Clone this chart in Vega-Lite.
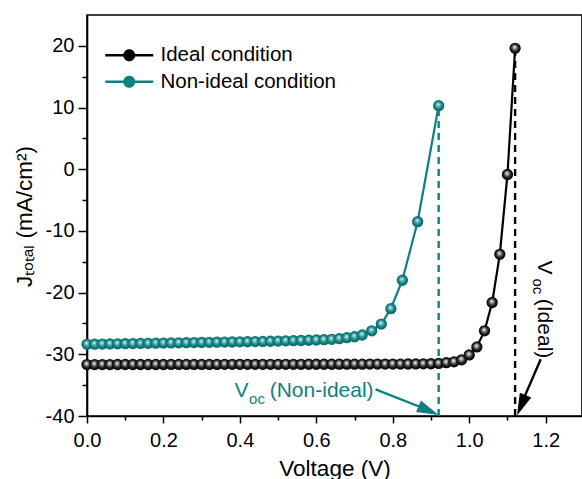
{
  "$schema": "https://vega.github.io/schema/vega-lite/v6.json",
  "width": 495,
  "height": 401,
  "autosize": {"type": "none"},
  "padding": {"left": 87, "top": 15, "right": 0, "bottom": 64},
  "background": "white",
  "config": {
    "view": {"stroke": "black", "strokeWidth": 1.6},
    "axis": {
      "labelFont": "Liberation Sans",
      "titleFont": "Liberation Sans",
      "labelFontSize": 20,
      "titleFontSize": 22.5,
      "titleFontWeight": "normal",
      "labelColor": "black",
      "titleColor": "black",
      "domainColor": "black",
      "domainWidth": 1.6,
      "tickColor": "black",
      "tickWidth": 1.5,
      "labelFlush": false,
      "grid": false
    }
  },
  "datasets": {
    "curves": [
      {"series": "Ideal condition", "v": 0.00, "j": -31.66},
      {"series": "Ideal condition", "v": 0.02, "j": -31.66},
      {"series": "Ideal condition", "v": 0.04, "j": -31.66},
      {"series": "Ideal condition", "v": 0.06, "j": -31.66},
      {"series": "Ideal condition", "v": 0.08, "j": -31.65},
      {"series": "Ideal condition", "v": 0.10, "j": -31.65},
      {"series": "Ideal condition", "v": 0.12, "j": -31.65},
      {"series": "Ideal condition", "v": 0.14, "j": -31.65},
      {"series": "Ideal condition", "v": 0.16, "j": -31.65},
      {"series": "Ideal condition", "v": 0.18, "j": -31.65},
      {"series": "Ideal condition", "v": 0.20, "j": -31.65},
      {"series": "Ideal condition", "v": 0.22, "j": -31.64},
      {"series": "Ideal condition", "v": 0.24, "j": -31.64},
      {"series": "Ideal condition", "v": 0.26, "j": -31.64},
      {"series": "Ideal condition", "v": 0.28, "j": -31.64},
      {"series": "Ideal condition", "v": 0.30, "j": -31.64},
      {"series": "Ideal condition", "v": 0.32, "j": -31.64},
      {"series": "Ideal condition", "v": 0.34, "j": -31.64},
      {"series": "Ideal condition", "v": 0.36, "j": -31.63},
      {"series": "Ideal condition", "v": 0.38, "j": -31.63},
      {"series": "Ideal condition", "v": 0.40, "j": -31.63},
      {"series": "Ideal condition", "v": 0.42, "j": -31.63},
      {"series": "Ideal condition", "v": 0.44, "j": -31.63},
      {"series": "Ideal condition", "v": 0.46, "j": -31.63},
      {"series": "Ideal condition", "v": 0.48, "j": -31.62},
      {"series": "Ideal condition", "v": 0.50, "j": -31.62},
      {"series": "Ideal condition", "v": 0.52, "j": -31.62},
      {"series": "Ideal condition", "v": 0.54, "j": -31.62},
      {"series": "Ideal condition", "v": 0.56, "j": -31.62},
      {"series": "Ideal condition", "v": 0.58, "j": -31.61},
      {"series": "Ideal condition", "v": 0.60, "j": -31.61},
      {"series": "Ideal condition", "v": 0.62, "j": -31.61},
      {"series": "Ideal condition", "v": 0.64, "j": -31.61},
      {"series": "Ideal condition", "v": 0.66, "j": -31.60},
      {"series": "Ideal condition", "v": 0.68, "j": -31.60},
      {"series": "Ideal condition", "v": 0.70, "j": -31.60},
      {"series": "Ideal condition", "v": 0.72, "j": -31.60},
      {"series": "Ideal condition", "v": 0.74, "j": -31.59},
      {"series": "Ideal condition", "v": 0.76, "j": -31.59},
      {"series": "Ideal condition", "v": 0.78, "j": -31.59},
      {"series": "Ideal condition", "v": 0.80, "j": -31.58},
      {"series": "Ideal condition", "v": 0.82, "j": -31.58},
      {"series": "Ideal condition", "v": 0.84, "j": -31.57},
      {"series": "Ideal condition", "v": 0.86, "j": -31.56},
      {"series": "Ideal condition", "v": 0.88, "j": -31.55},
      {"series": "Ideal condition", "v": 0.90, "j": -31.53},
      {"series": "Ideal condition", "v": 0.92, "j": -31.48},
      {"series": "Ideal condition", "v": 0.94, "j": -31.36},
      {"series": "Ideal condition", "v": 0.96, "j": -31.22},
      {"series": "Ideal condition", "v": 0.98, "j": -30.9},
      {"series": "Ideal condition", "v": 1.00, "j": -30.1},
      {"series": "Ideal condition", "v": 1.02, "j": -28.8},
      {"series": "Ideal condition", "v": 1.04, "j": -26.2},
      {"series": "Ideal condition", "v": 1.06, "j": -21.6},
      {"series": "Ideal condition", "v": 1.08, "j": -13.8},
      {"series": "Ideal condition", "v": 1.10, "j": -0.85},
      {"series": "Ideal condition", "v": 1.12, "j": 19.6},
      {"series": "Non-ideal condition", "v": 0.00, "j": -28.38},
      {"series": "Non-ideal condition", "v": 0.02, "j": -28.36},
      {"series": "Non-ideal condition", "v": 0.04, "j": -28.34},
      {"series": "Non-ideal condition", "v": 0.06, "j": -28.32},
      {"series": "Non-ideal condition", "v": 0.08, "j": -28.30},
      {"series": "Non-ideal condition", "v": 0.10, "j": -28.28},
      {"series": "Non-ideal condition", "v": 0.12, "j": -28.26},
      {"series": "Non-ideal condition", "v": 0.14, "j": -28.24},
      {"series": "Non-ideal condition", "v": 0.16, "j": -28.22},
      {"series": "Non-ideal condition", "v": 0.18, "j": -28.20},
      {"series": "Non-ideal condition", "v": 0.20, "j": -28.18},
      {"series": "Non-ideal condition", "v": 0.22, "j": -28.16},
      {"series": "Non-ideal condition", "v": 0.24, "j": -28.14},
      {"series": "Non-ideal condition", "v": 0.26, "j": -28.12},
      {"series": "Non-ideal condition", "v": 0.28, "j": -28.10},
      {"series": "Non-ideal condition", "v": 0.30, "j": -28.08},
      {"series": "Non-ideal condition", "v": 0.32, "j": -28.06},
      {"series": "Non-ideal condition", "v": 0.34, "j": -28.04},
      {"series": "Non-ideal condition", "v": 0.36, "j": -28.02},
      {"series": "Non-ideal condition", "v": 0.38, "j": -28.00},
      {"series": "Non-ideal condition", "v": 0.40, "j": -27.98},
      {"series": "Non-ideal condition", "v": 0.42, "j": -27.96},
      {"series": "Non-ideal condition", "v": 0.44, "j": -27.93},
      {"series": "Non-ideal condition", "v": 0.46, "j": -27.91},
      {"series": "Non-ideal condition", "v": 0.48, "j": -27.88},
      {"series": "Non-ideal condition", "v": 0.50, "j": -27.85},
      {"series": "Non-ideal condition", "v": 0.52, "j": -27.82},
      {"series": "Non-ideal condition", "v": 0.54, "j": -27.79},
      {"series": "Non-ideal condition", "v": 0.56, "j": -27.76},
      {"series": "Non-ideal condition", "v": 0.58, "j": -27.72},
      {"series": "Non-ideal condition", "v": 0.60, "j": -27.68},
      {"series": "Non-ideal condition", "v": 0.62, "j": -27.63},
      {"series": "Non-ideal condition", "v": 0.64, "j": -27.57},
      {"series": "Non-ideal condition", "v": 0.66, "j": -27.47},
      {"series": "Non-ideal condition", "v": 0.68, "j": -27.31},
      {"series": "Non-ideal condition", "v": 0.70, "j": -27.15},
      {"series": "Non-ideal condition", "v": 0.72, "j": -26.87},
      {"series": "Non-ideal condition", "v": 0.745, "j": -26.2},
      {"series": "Non-ideal condition", "v": 0.77, "j": -25.1},
      {"series": "Non-ideal condition", "v": 0.795, "j": -22.6},
      {"series": "Non-ideal condition", "v": 0.825, "j": -18.0},
      {"series": "Non-ideal condition", "v": 0.865, "j": -8.5},
      {"series": "Non-ideal condition", "v": 0.92, "j": 10.3}
    ],
    "voc": [
      {"series": "Ideal condition", "v": 1.12, "jb": -40, "j": 19.6},
      {"series": "Non-ideal condition", "v": 0.92, "jb": -40, "j": 10.3}
    ],
    "arrows": [
      {"series": "Non-ideal condition", "v0": 0.755, "j0": -35.7, "v1": 0.897, "j1": -39.15, "vt": 0.92, "jt": -39.85},
      {"series": "Ideal condition", "v0": 1.187, "j0": -30.8, "v1": 1.134, "j1": -38.4, "vt": 1.125, "jt": -39.9}
    ],
    "notes": [
      {"series": "Non-ideal condition", "part": "main", "text": "V", "v": 0.386, "j": -37.0},
      {"series": "Non-ideal condition", "part": "sub", "text": "oc", "v": 0.424, "j": -38.0},
      {"series": "Non-ideal condition", "part": "main", "text": "(Non-ideal)", "v": 0.478, "j": -37.0},
      {"series": "Ideal condition", "part": "main", "text": "V", "v": 1.179, "j": -14.8},
      {"series": "Ideal condition", "part": "sub", "text": "oc", "v": 1.167, "j": -17.7},
      {"series": "Ideal condition", "part": "main", "text": "(Ideal)", "v": 1.179, "j": -21.0}
    ]
  },
  "resolve": {"axis": {"x": "independent", "y": "independent"}},
  "layer": [
    {
      "data": {"name": "curves"},
      "mark": {"type": "point", "filled": true, "opacity": 1, "size": 60, "strokeWidth": 0},
      "encoding": {
        "x": {"field": "v", "type": "quantitative", "axis": null,
              "scale": {"domain": [0, 1.295], "nice": false, "zero": false}},
        "y": {"field": "j", "type": "quantitative", "axis": null,
              "scale": {"domain": [-40, 25], "nice": false, "zero": false}},
        "color": {"field": "series", "type": "nominal",
                  "scale": {"domain": ["Ideal condition", "Non-ideal condition"], "range": ["#000000", "#0f8080"]},
                  "legend": {
                    "title": null, "orient": "none", "legendX": 32, "legendY": 30, "padding": 0,
                    "symbolType": "M-4,-0.22L4,-0.22L4,0.22L-4,0.22Z M1,0A1,1,0,1,1,-1,0A1,1,0,1,1,1,0Z",
                    "symbolSize": 144, "symbolStrokeWidth": 0, "symbolOpacity": 1,
                    "labelFont": "Liberation Sans", "labelFontSize": 20.5, "labelColor": "black", "labelOffset": 21,
                    "labelLimit": 400, "rowPadding": 5.5
                  }}
      }
    },
    {
      "data": {"name": "voc"},
      "mark": {"type": "rule", "strokeDash": [7, 5], "strokeWidth": 2.4},
      "encoding": {
        "x": {"field": "v", "type": "quantitative",
              "axis": {"orient": "bottom", "values": [0.1, 0.3, 0.5, 0.7, 0.9, 1.1], "labels": false, "tickSize": 4, "domain": false, "title": null}},
        "y": {"field": "jb", "type": "quantitative",
              "axis": {"orient": "left", "values": [-35, -25, -15, -5, 5, 15], "labels": false, "tickSize": 5, "domain": false, "title": null}},
        "y2": {"field": "j"},
        "color": {"field": "series", "type": "nominal"}
      }
    },
    {
      "data": {"name": "curves"},
      "mark": {"type": "line", "strokeWidth": 2.2},
      "encoding": {
        "x": {"field": "v", "type": "quantitative",
              "axis": {"orient": "bottom", "values": [0, 0.2, 0.4, 0.6, 0.8, 1.0, 1.2], "format": ".1f", "tickSize": 7, "labelPadding": 7,
                       "title": "Voltage (V)", "titleX": 247.5, "titleY": 59, "titleBaseline": "alphabetic", "titleAlign": "center"}},
        "y": {"field": "j", "type": "quantitative",
              "axis": {"orient": "left", "values": [-40, -30, -20, -10, 0, 10, 20], "tickSize": 9, "labelPadding": 4,
                       "labelExpr": "datum.value < 0 ? '-' + format(-datum.value, 'd') : format(datum.value, 'd')",
                       "title": "Jₜₒₜₐₗ (mA/cm²)", "titleX": -56, "titleY": 201, "titleAngle": 270, "titleBaseline": "alphabetic", "titleAlign": "center"}},
        "color": {"field": "series", "type": "nominal"}
      }
    },
    {
      "data": {"name": "curves"},
      "transform": [{"filter": "datum.series === 'Ideal condition'"}],
      "mark": {"type": "point", "filled": true, "opacity": 1, "size": 128, "strokeWidth": 0,
               "fill": {"gradient": "radial", "x1": 0.45, "y1": 0.38, "r1": 0, "x2": 0.5, "y2": 0.5, "r2": 0.55,
                        "stops": [{"offset": 0, "color": "#ffffff"}, {"offset": 0.22, "color": "#a8a8a8"}, {"offset": 0.6, "color": "#1c1c1c"}, {"offset": 1, "color": "#000000"}]}},
      "encoding": {
        "x": {"field": "v", "type": "quantitative", "axis": null},
        "y": {"field": "j", "type": "quantitative", "axis": null}
      }
    },
    {
      "data": {"name": "curves"},
      "transform": [{"filter": "datum.series === 'Non-ideal condition'"}],
      "mark": {"type": "point", "filled": true, "opacity": 1, "size": 128, "strokeWidth": 0,
               "fill": {"gradient": "radial", "x1": 0.45, "y1": 0.38, "r1": 0, "x2": 0.5, "y2": 0.5, "r2": 0.55,
                        "stops": [{"offset": 0, "color": "#f4ffff"}, {"offset": 0.22, "color": "#7cc4c4"}, {"offset": 0.6, "color": "#0f8080"}, {"offset": 1, "color": "#086262"}]}},
      "encoding": {
        "x": {"field": "v", "type": "quantitative", "axis": null},
        "y": {"field": "j", "type": "quantitative", "axis": null}
      }
    },
    {
      "data": {"name": "arrows"},
      "mark": {"type": "rule", "strokeWidth": 2.4},
      "encoding": {
        "x": {"field": "v0", "type": "quantitative", "axis": null},
        "y": {"field": "j0", "type": "quantitative", "axis": null},
        "x2": {"field": "v1"},
        "y2": {"field": "j1"},
        "color": {"field": "series", "type": "nominal"}
      }
    },
    {
      "data": {"name": "arrows"},
      "transform": [{"filter": "datum.series === 'Non-ideal condition'"}],
      "mark": {"type": "point", "filled": true, "opacity": 1, "color": "#0f8080", "strokeWidth": 0,
               "shape": "M0,0L-1,-0.28L-1,0.28Z", "size": 1936, "angle": 23.6},
      "encoding": {
        "x": {"field": "vt", "type": "quantitative", "axis": null},
        "y": {"field": "jt", "type": "quantitative", "axis": null}
      }
    },
    {
      "data": {"name": "arrows"},
      "transform": [{"filter": "datum.series === 'Ideal condition'"}],
      "mark": {"type": "point", "filled": true, "opacity": 1, "color": "#000000", "strokeWidth": 0,
               "shape": "M0,0L-1,-0.28L-1,0.28Z", "size": 1936, "angle": 112.7},
      "encoding": {
        "x": {"field": "vt", "type": "quantitative", "axis": null},
        "y": {"field": "jt", "type": "quantitative", "axis": null}
      }
    },
    {
      "data": {"name": "notes"},
      "transform": [{"filter": "datum.series === 'Non-ideal condition'"}],
      "mark": {"type": "text", "font": "Liberation Sans", "align": "left", "baseline": "alphabetic", "color": "#0f8080"},
      "encoding": {
        "x": {"field": "v", "type": "quantitative", "axis": null},
        "y": {"field": "j", "type": "quantitative", "axis": null},
        "text": {"field": "text"},
        "size": {"condition": {"test": "datum.part === 'sub'", "value": 15}, "value": 21}
      }
    },
    {
      "data": {"name": "notes"},
      "transform": [{"filter": "datum.series === 'Ideal condition'"}],
      "mark": {"type": "text", "font": "Liberation Sans", "align": "left", "baseline": "alphabetic", "color": "#000000", "angle": 90},
      "encoding": {
        "x": {"field": "v", "type": "quantitative", "axis": null},
        "y": {"field": "j", "type": "quantitative", "axis": null},
        "text": {"field": "text"},
        "size": {"condition": {"test": "datum.part === 'sub'", "value": 15}, "value": 21}
      }
    }
  ]
}
